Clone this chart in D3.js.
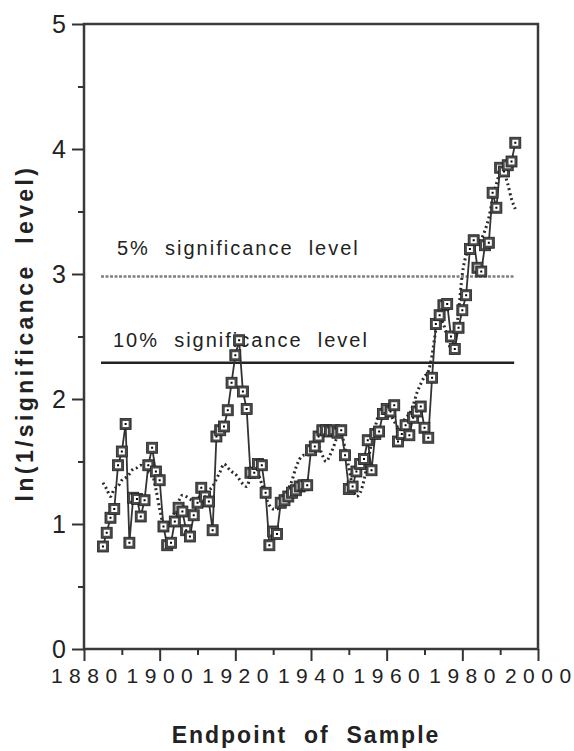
<!DOCTYPE html>
<html>
<head>
<meta charset="utf-8">
<script src="https://cdn.jsdelivr.net/npm/d3@7"></script>
<style>
  body{margin:0;background:#fff;}
  text{font-family:"Liberation Sans",Arial,Helvetica,sans-serif;fill:#222;}
</style>
</head>
<body>
<div class="maintable"></div>
<script>
// 年份 1885..1994
var years = d3.range(1885, 1995);

// 带方块标记的序列
var markVals = [
  0.82,0.93,1.05,1.12,1.47,1.58,1.80,0.85,1.21,1.20,   // 1885-1894
  1.06,1.19,1.47,1.61,1.42,1.35,0.98,0.83,0.85,1.02,   // 1895-1904
  1.13,1.10,0.95,0.90,1.07,1.17,1.29,1.22,1.18,0.95,   // 1905-1914
  1.70,1.75,1.78,1.91,2.13,2.35,2.47,2.06,1.92,1.41,   // 1915-1924
  1.41,1.48,1.47,1.25,0.83,0.94,0.92,1.17,1.19,1.22,   // 1925-1934
  1.25,1.27,1.30,1.31,1.31,1.59,1.62,1.70,1.75,1.75,   // 1935-1944
  1.74,1.75,1.73,1.75,1.55,1.28,1.30,1.42,1.48,1.52,   // 1945-1954
  1.67,1.43,1.72,1.74,1.88,1.92,1.90,1.95,1.66,1.72,   // 1955-1964
  1.79,1.71,1.85,1.90,1.94,1.77,1.69,2.17,2.60,2.67,   // 1965-1974
  2.75,2.76,2.50,2.40,2.57,2.71,2.83,3.20,3.27,3.05,   // 1975-1984
  3.02,3.23,3.25,3.65,3.53,3.85,3.82,3.87,3.90,4.05    // 1985-1994
];

// 虚线序列
var dotVals = [
  1.33,1.28,1.22,1.28,1.30,1.35,1.37,1.40,1.44,1.45,   // 1885-1894
  1.47,1.45,1.42,1.40,1.28,1.12,1.00,0.98,1.02,1.10,   // 1895-1904
  1.18,1.23,1.22,1.20,1.18,1.20,1.23,1.25,1.27,1.30,   // 1905-1914
  1.36,1.42,1.48,1.45,1.42,1.40,1.36,1.32,1.30,1.38,   // 1915-1924
  1.44,1.40,1.32,1.22,1.15,1.12,1.12,1.15,1.20,1.28,   // 1925-1934
  1.35,1.45,1.52,1.55,1.55,1.58,1.62,1.62,1.55,1.50,   // 1935-1944
  1.55,1.62,1.70,1.72,1.60,1.45,1.30,1.22,1.25,1.35,   // 1945-1954
  1.50,1.65,1.78,1.88,1.90,1.92,1.88,1.82,1.78,1.80,   // 1955-1964
  1.85,1.88,1.95,2.05,2.12,2.18,2.22,2.35,2.55,2.65,   // 1965-1974
  2.60,2.50,2.40,2.45,2.70,3.00,3.15,3.20,3.22,3.25,   // 1975-1984
  3.28,3.35,3.45,3.60,3.72,3.80,3.80,3.72,3.60,3.52    // 1985-1994
];

// 显著性水平线
var sigNames = ["5%  significance  level", "10%  significance  level"];
var sigVals = [2.98, 2.29];
var sigSpan = [1884.5, 1993.7];

var yTicks = [0,1,2,3,4,5];
var xTicks = [1880,1900,1920,1940,1960,1980,2000];

var x = d3.scaleLinear().domain([1880,2000]).range([84,538]);
var y = d3.scaleLinear().domain([0,5]).range([649,24]);

var svg = d3.select(".maintable").append("svg")
  .attr("width",574)
  .attr("height",751);

// 边框
svg.append("rect")
  .attr("x",x(1880))
  .attr("y",y(5))
  .attr("width",x(2000)-x(1880))
  .attr("height",y(0)-y(5))
  .attr("fill","none")
  .attr("stroke","#3a3a3a")
  .attr("stroke-width",2.5);

// y 轴
var yAxis = d3.axisLeft(y)
  .tickValues(d3.range(0,5.01,0.5))
  .tickSize(0)
  .tickFormat("");
svg.append("g")
  .attr("transform","translate("+x(1880)+",0)")
  .call(yAxis)
  .each(function(){
    var g = d3.select(this);
    g.select(".domain").remove();
    g.selectAll(".tick line")
      .attr("x2",function(d){ return d%1===0 ? -12 : -6; })
      .attr("stroke","#333")
      .attr("stroke-width",2);
  });

svg.selectAll("text.ytick")
  .data(yTicks)
  .enter().append("text")
  .attr("class","ytick")
  .attr("x",66)
  .attr("y",function(d){ return y(d)+9; })
  .attr("text-anchor","end")
  .attr("font-size","25px")
  .text(function(d){ return d; });

// x 轴
var xAxis = d3.axisBottom(x)
  .tickValues(d3.range(1880,2001,10))
  .tickSize(0)
  .tickFormat("");
svg.append("g")
  .attr("transform","translate(0,"+y(0)+")")
  .call(xAxis)
  .each(function(){
    var g = d3.select(this);
    g.select(".domain").remove();
    g.selectAll(".tick line")
      .attr("y2",function(d){ return d%20===0 ? 12 : 6; })
      .attr("stroke","#333")
      .attr("stroke-width",2);
  });

// 刻度数字 字距用 dx，避免尾部多出空白
svg.selectAll("text.xtick")
  .data(xTicks)
  .enter().append("text")
  .attr("class","xtick")
  .attr("x",function(d){ return x(d); })
  .attr("y",683)
  .attr("dx","0 6.5 6.5 6.5")
  .attr("text-anchor","middle")
  .attr("font-size","21px")
  .text(function(d){ return d; });

// 轴标题
svg.append("text")
  .attr("x",306)
  .attr("y",743)
  .attr("text-anchor","middle")
  .attr("font-size","23px")
  .attr("font-weight","bold")
  .attr("letter-spacing","2px")
  .style("white-space","pre")
  .text("Endpoint  of  Sample");

svg.append("text")
  .attr("transform","translate(33,333) rotate(-90)")
  .attr("text-anchor","middle")
  .attr("font-size","23px")
  .attr("font-weight","bold")
  .attr("letter-spacing","3.4px")
  .style("white-space","pre")
  .text("ln(1/significance  level)");

// 显著性水平线
svg.append("line")
  .attr("x1",x(sigSpan[0])).attr("x2",x(sigSpan[1]))
  .attr("y1",y(sigVals[0])).attr("y2",y(sigVals[0]))
  .attr("stroke","#808080")
  .attr("stroke-width",2.5)
  .attr("stroke-dasharray","3,1.5");

svg.append("line")
  .attr("x1",x(sigSpan[0])).attr("x2",x(sigSpan[1]))
  .attr("y1",y(sigVals[1])).attr("y2",y(sigVals[1]))
  .attr("stroke","#222")
  .attr("stroke-width",2.5);

svg.append("text")
  .attr("x",117).attr("y",255)
  .attr("font-size","20px")
  .attr("letter-spacing","2px")
  .style("white-space","pre")
  .text(sigNames[0]);

svg.append("text")
  .attr("x",113).attr("y",347)
  .attr("font-size","20px")
  .attr("letter-spacing","2px")
  .style("white-space","pre")
  .text(sigNames[1]);

// 虚线
var line = d3.line()
  .x(function(d,i){ return x(years[i]); })
  .y(function(d){ return y(d); });

svg.append("path")
  .datum(dotVals)
  .attr("d",line.curve(d3.curveMonotoneX))
  .attr("fill","none")
  .attr("stroke","#2a2a2a")
  .attr("stroke-width",3)
  .attr("stroke-dasharray","2,3");

// 实线 + 方块
svg.append("path")
  .datum(markVals)
  .attr("d",line.curve(d3.curveLinear))
  .attr("fill","none")
  .attr("stroke","#333")
  .attr("stroke-width",1.8);

svg.selectAll("g.mark")
  .data(markVals)
  .enter().append("g")
  .attr("class","mark")
  .attr("transform",function(d,i){ return "translate("+x(years[i])+","+y(d)+")"; })
  .each(function(){
    var g = d3.select(this);
    g.append("rect")
      .attr("x",-5.5).attr("y",-5.5)
      .attr("width",11).attr("height",11)
      .attr("fill","#4a4a4a")
      .attr("stroke","#222")
      .attr("stroke-width",0.8);
    g.append("rect")
      .attr("x",-3).attr("y",-3)
      .attr("width",6).attr("height",6)
      .attr("fill","#fff");
    g.append("rect")
      .attr("x",-1).attr("y",-1)
      .attr("width",2).attr("height",2)
      .attr("fill","#000");
  });
</script>
</body>
</html>
